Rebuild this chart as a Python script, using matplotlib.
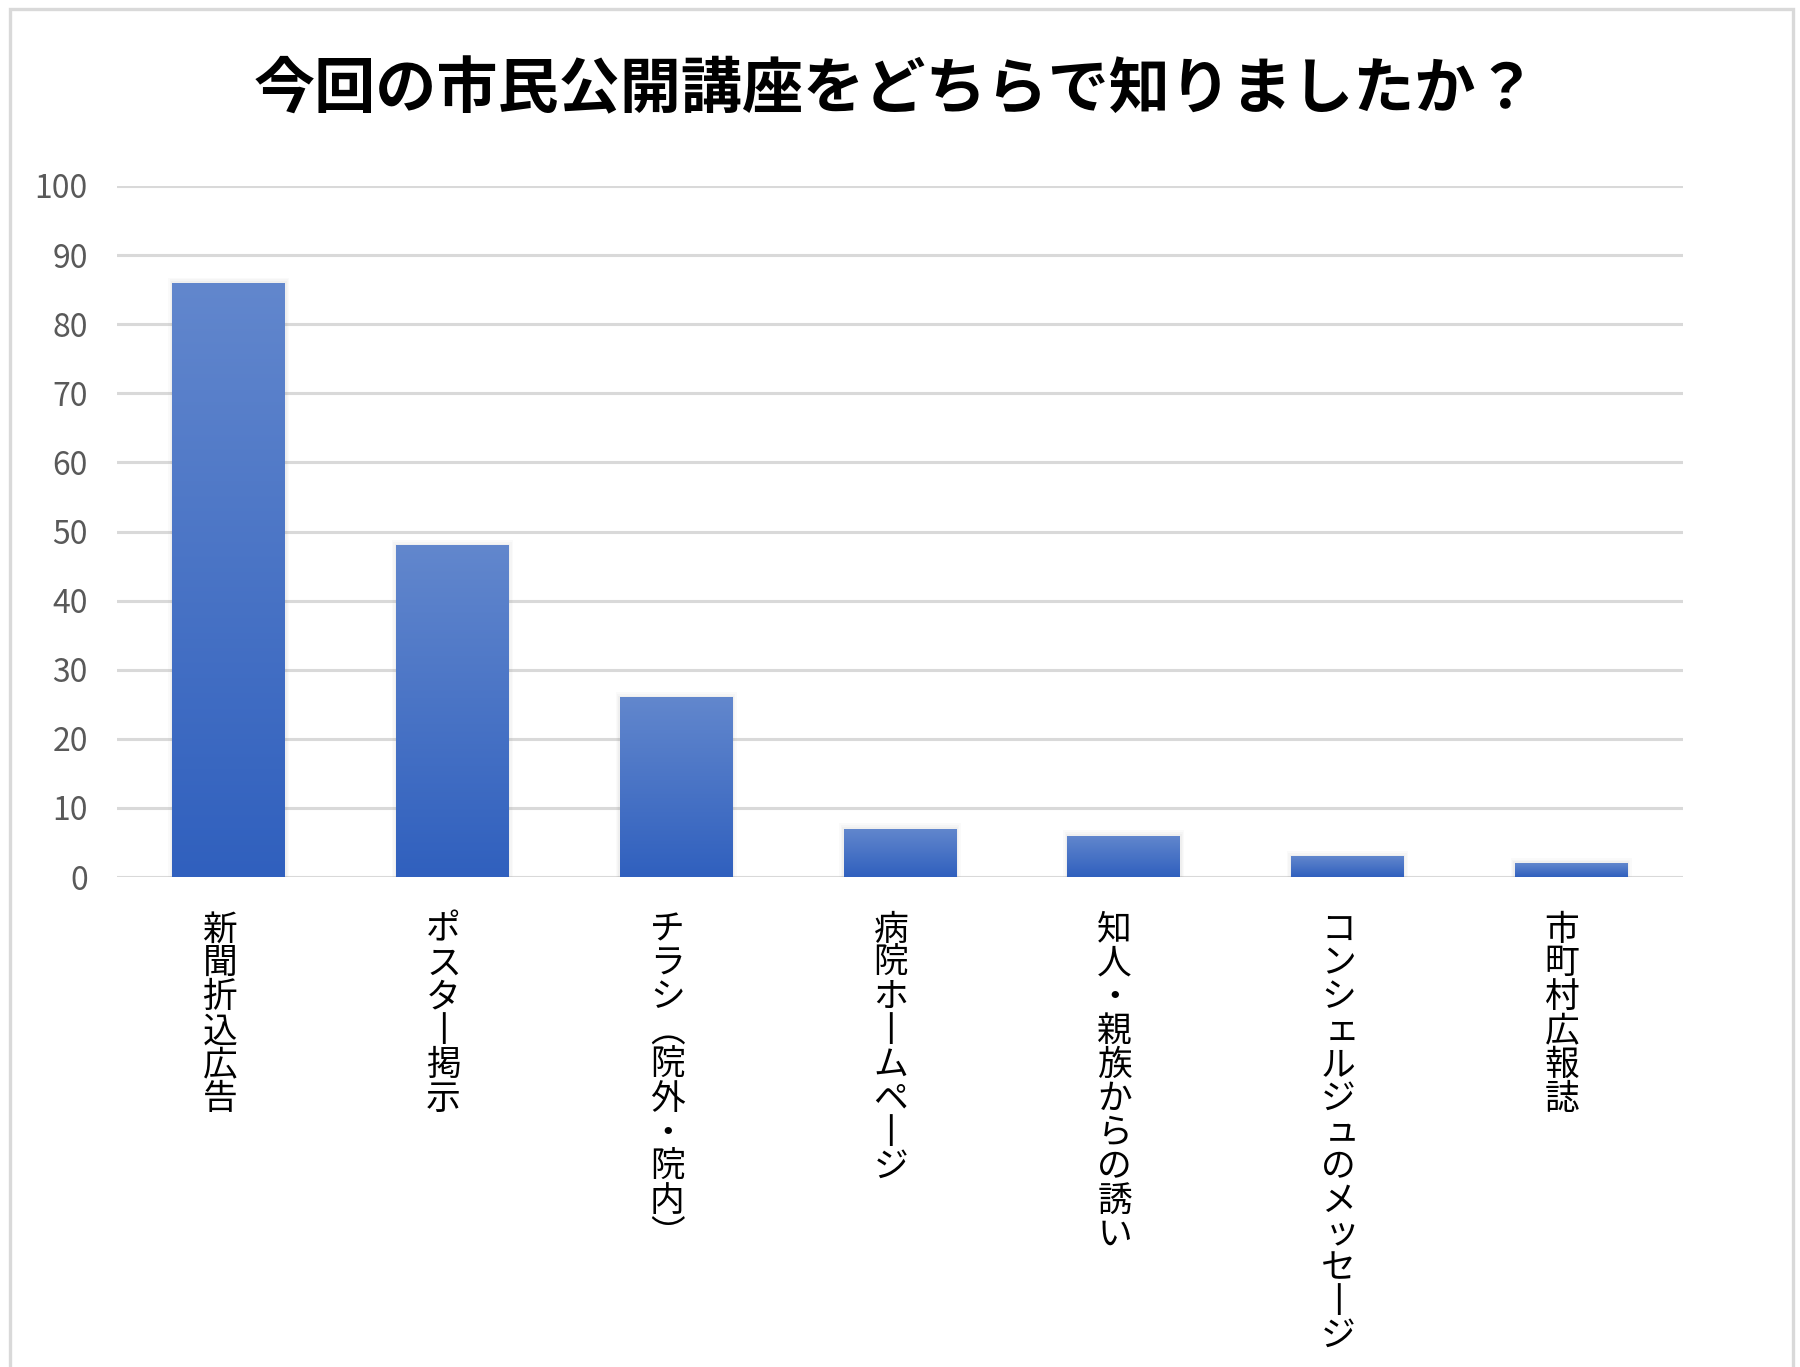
import numpy as np
import matplotlib
matplotlib.use("Agg")
import matplotlib.pyplot as plt
from matplotlib.patches import Rectangle
from matplotlib.colors import LinearSegmentedColormap

plt.rcParams['font.family'] = ['Noto Sans CJK JP', 'DejaVu Sans']

title = "今回の市民公開講座をどちらで知りましたか？"
categories = ["新聞折込広告", "ポスター掲示", "チラシ（院外・院内）", "病院ホームページ",
              "知人・親族からの誘い", "コンシェルジュのメッセージ", "市町村広報誌"]
values = [86, 48, 26, 7, 6, 3, 2]
yticks = [0, 10, 20, 30, 40, 50, 60, 70, 80, 90, 100]

W, H, DPI = 1800, 1367, 100
fig = plt.figure(figsize=(W / DPI, H / DPI), dpi=DPI)
fig.patch.set_facecolor("white")

# outer border
fig.add_artist(Rectangle((10 / W, -0.01), (1793 - 10) / W, (1 - 9 / H) + 0.01,
                         transform=fig.transFigure, fill=False,
                         edgecolor="#D9D9D9", linewidth=2.4))

ax = fig.add_axes([117 / W, 1 - 877 / H, (1683 - 117) / W, (877 - 186) / H])
for s in ax.spines.values():
    s.set_visible(False)
ax.set_yticks(yticks)
ax.set_yticklabels([str(t) for t in yticks], fontsize=23, color="#595959")
ax.tick_params(axis="y", length=0, pad=21)
ax.tick_params(axis="x", length=0, labelbottom=False)
ax.yaxis.grid(True, color="#D9D9D9", linewidth=2.2, zorder=0)
ax.set_axisbelow(True)
ax.set_xticks(range(len(categories)))
ax.set_facecolor("none")

cmap = LinearSegmentedColormap.from_list("g", ["#3060BE", "#6287CD"])
grad = np.linspace(0, 1, 256).reshape(-1, 1)
x = np.arange(len(categories))
bars = ax.bar(x, values, width=0.505, color="none", edgecolor="none", zorder=3)
for b in bars:
    x0, y0 = b.get_x(), b.get_y()
    w, h = b.get_width(), b.get_height()
    # soft shadow
    for k, a in enumerate([0.05, 0.04, 0.03]):
        d = 0.006 * (k + 1)
        ax.add_patch(Rectangle((x0 - d, y0), w + 2 * d, h + 0.25 * (k + 1),
                               facecolor="#7F7F7F", alpha=a, edgecolor="none", zorder=2))
    im = ax.imshow(grad, extent=(x0, x0 + w, y0, y0 + h), origin="lower",
                   cmap=cmap, aspect="auto", zorder=3, interpolation="bilinear")
    im.set_clip_path(b)
ax.set_xlim(-0.5, len(categories) - 0.5)
ax.set_ylim(0, 100)

# vertical (tategaki) category labels
fs = 25
pitch = 24.4  # points per character
vert_forms = {"ー": "丨", "（": "︵", "）": "︶"}
small = set("ッェュャョァィゥォ")
for i, lab in enumerate(categories):
    for k, ch in enumerate(lab):
        dx, dy = -6.5, 0
        if ch in small:
            dx, dy = -6.5 + 0.10 * fs, 0.05 * fs
        ax.annotate(vert_forms.get(ch, ch), xy=(i, 0), xycoords=("data", "axes fraction"),
                    xytext=(dx, -26 - (k + 0.5) * pitch + dy), textcoords="offset points",
                    ha="center", va="center", fontsize=fs, color="black",
                    annotation_clip=False)

fig.text(895 / W, 1 - 91 / H, title, ha="center", va="center",
         fontsize=44, fontweight="bold", color="black")

fig.savefig("out.png", dpi=DPI, facecolor="white")
